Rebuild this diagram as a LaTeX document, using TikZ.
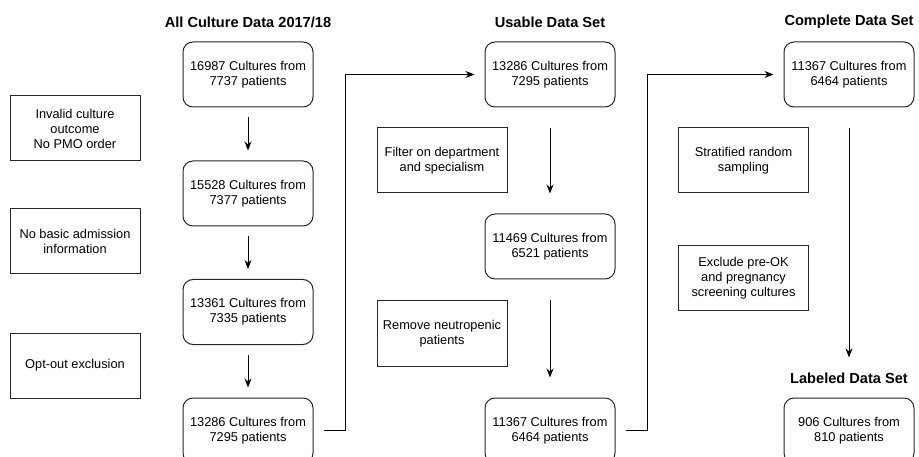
\documentclass[tikz,border=0pt]{standalone}
\usepackage{fontspec}
\setmainfont{Liberation Sans}
\usetikzlibrary{arrows.meta}

\begin{document}
\begin{tikzpicture}[x=1pt,y=-1pt,
    setbox/.style={draw=black!85, line width=1pt, rounded corners=10pt,
      minimum width=130pt, minimum height=65pt, align=center,
      font=\fontsize{12.8}{15}\selectfont},
    stepnote/.style={draw=black!85, line width=1pt,
      minimum width=130pt, minimum height=65pt, align=center,
      font=\fontsize{12.8}{15}\selectfont},
    settitle/.style={font=\fontsize{14.6}{17}\selectfont\bfseries, inner sep=1pt},
    flow/.style={line width=1pt, -{Stealth[length=9pt,width=7pt]}}]
    \clip (0,0) rectangle (919,457);
    % titles
    \node[settitle] (t1) at (248,22) {All Culture Data 2017/18};
    \node[settitle] (t2) at (550,22) {Usable Data Set};
    \node[settitle] (t3) at (849,22) {Complete Data Set};
    \node[settitle] (t4) at (849,378) {Labeled Data Set};
    % first column
    \node[setbox] (c1a) at (248,74.5) {16987 Cultures from\\7737 patients};
    \node[setbox] (c1b) at (248,193.5) {15528 Cultures from\\7377 patients};
    \node[setbox] (c1c) at (248,312) {13361 Cultures from\\7335 patients};
    \node[setbox] (c1d) at (248,430.5) {13286 Cultures from\\7295 patients};
    \node[stepnote] (n1a) at (75,128.5) {Invalid culture\\outcome\\No PMO order};
    \node[stepnote] (n1b) at (75,241.5) {No basic admission\\information};
    \node[stepnote] (n1c) at (75,365.5) {Opt-out exclusion};
    % second column
    \node[setbox] (c2a) at (550,74.5) {13286 Cultures from\\7295 patients};
    \node[setbox] (c2b) at (550,246.5) {11469 Cultures from\\6521 patients};
    \node[setbox] (c2c) at (550,430.5) {11367 Cultures from\\6464 patients};
    \node[stepnote] (n2a) at (442,160.5) {Filter on department\\and specialism};
    \node[stepnote] (n2b) at (442,333.5) {Remove neutropenic\\patients};
    % third column
    \node[setbox] (c3a) at (849,74.5) {11367 Cultures from\\6464 patients};
    \node[setbox] (c3b) at (849,430.5) {906 Cultures from\\810 patients};
    \node[stepnote] (n3a) at (743.5,160.5) {Stratified random\\sampling};
    \node[stepnote] (n3b) at (743.5,278.5) {Exclude pre-OK\\and pregnancy\\screening cultures};
    % arrows
    \foreach \a/\b in {c1a/c1b,c1b/c1c,c1c/c1d}
      \draw[flow, shorten <=10pt, shorten >=10pt] (\a) -- (\b);
    \foreach \a/\b in {c2a/c2b,c2b/c2c}
      \draw[flow, shorten <=21pt, shorten >=20pt] (\a) -- (\b);
    \draw[flow, shorten <=21pt, shorten >=14pt] (c3a) -- (t4);
    \draw[flow, shorten <=10pt, shorten >=10pt] (c1d.east) -- ++(32,0) |- (c2a.west);
    \draw[flow, shorten <=10pt, shorten >=10pt] (c2c.east) -- ++(32,0) |- (c3a.west);
  \end{tikzpicture}
\end{document}
